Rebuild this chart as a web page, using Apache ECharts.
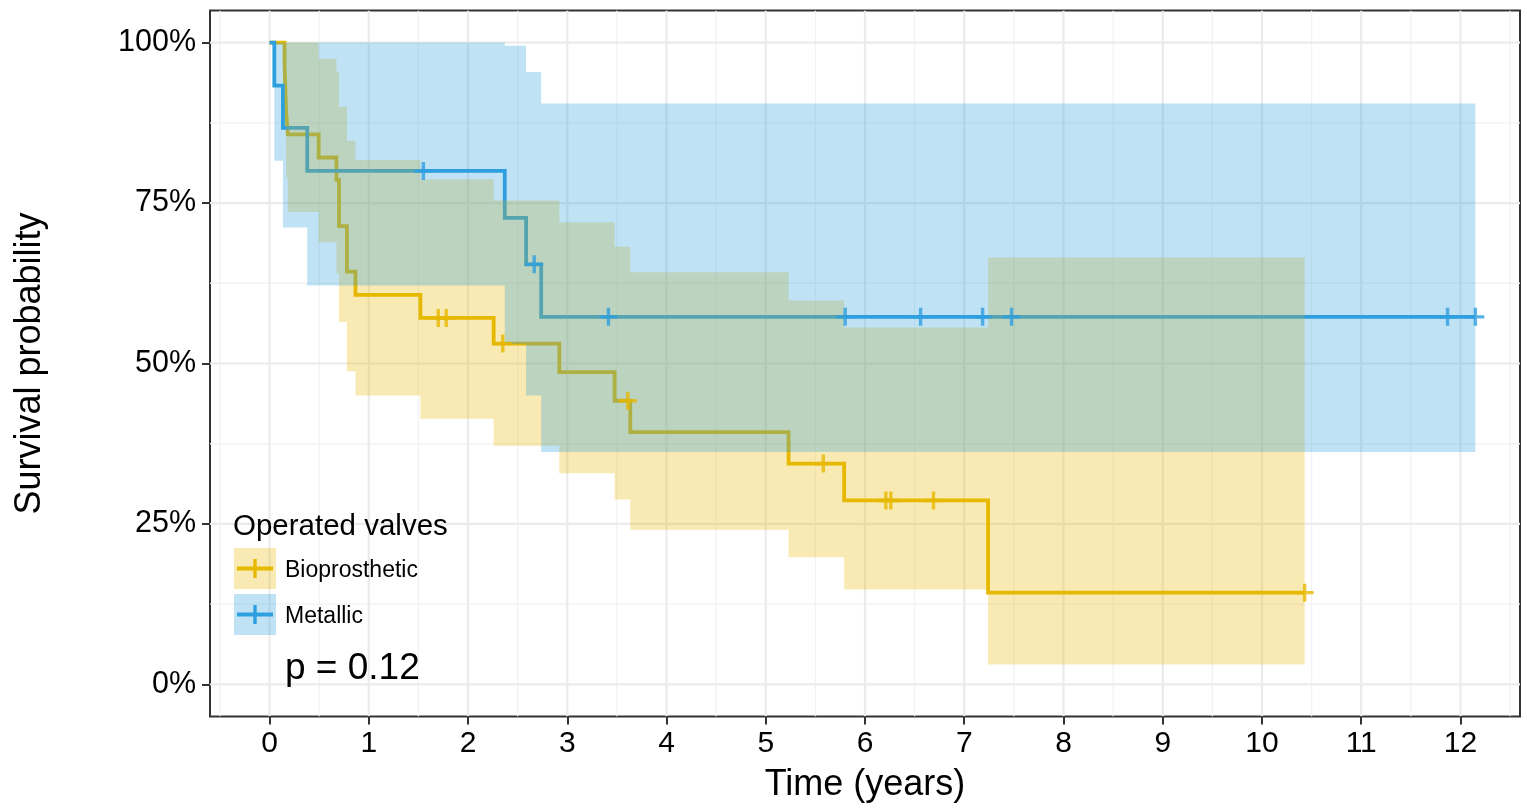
<!DOCTYPE html>
<html><head><meta charset="utf-8">
<script src="https://cdn.jsdelivr.net/npm/echarts@6/dist/echarts.min.js"></script>
<style>html,body{margin:0;padding:0;background:#fff}#c{width:1527px;height:810px}</style>
</head><body><div id="c"></div>
<script>
// ---- Data ----
const groupNames = ['Bioprosthetic', 'Metallic'];

const bioTime  = [0, 0.151, 0.167, 0.184, 0.495, 0.674, 0.70, 0.78, 0.866, 1.52, 2.258, 2.92, 3.477, 3.635, 5.23, 5.79, 7.24, 10.43];
const bioSurv  = [1, 0.964, 0.893, 0.857, 0.821, 0.786, 0.714, 0.643, 0.607, 0.571, 0.531, 0.4865, 0.442, 0.393, 0.344, 0.2866, 0.143, 0.143];
const bioLower = [1, 0.90, 0.79, 0.736, 0.689, 0.64, 0.5646, 0.488, 0.45, 0.414, 0.372, 0.329, 0.288, 0.241, 0.198, 0.148, 0.031, 0.031];
const bioUpper = [1, 1, 1, 1, 0.975, 0.955, 0.90, 0.847, 0.817, 0.787, 0.754, 0.72, 0.682, 0.642, 0.598, 0.556, 0.665, 0.665];
const bioCensTime = [1.70, 1.78, 2.35, 3.61, 5.58, 6.21, 6.26, 6.69, 10.43];
const bioCensSurv = [0.571, 0.571, 0.531, 0.442, 0.344, 0.2866, 0.2866, 0.2866, 0.143];

const metTime  = [0, 0.048, 0.135, 0.38, 2.37, 2.585, 2.737, 12.15];
const metSurv  = [1, 0.933, 0.867, 0.8, 0.727, 0.6545, 0.5727, 0.5727];
const metLower = [1, 0.816, 0.712, 0.6215, 0.53, 0.45, 0.362, 0.362];
const metUpper = [1, 1, 1, 1, 0.995, 0.954, 0.905, 0.905];
const metCensTime = [1.55, 2.667, 3.415, 5.80, 6.56, 7.185, 7.477, 11.87, 12.15];
const metCensSurv = [0.8, 0.6545, 0.5727, 0.5727, 0.5727, 0.5727, 0.5727, 0.5727, 0.5727];

const xTicks = [0, 1, 2, 3, 4, 5, 6, 7, 8, 9, 10, 11, 12];
const xMinor = [-0.5, 0.5, 1.5, 2.5, 3.5, 4.5, 5.5, 6.5, 7.5, 8.5, 9.5, 10.5, 11.5, 12.5];
const yTicks = [0, 0.25, 0.5, 0.75, 1];
const yMinor = [0.125, 0.375, 0.625, 0.875];
const pText = 'p = 0.12';
const legendTitle = 'Operated valves';

// ---- Styling ----
const X_MIN = -0.6, X_MAX = 12.6, Y_MIN = -0.05, Y_MAX = 1.05;
const YEL = '#E7B800', BLU = '#2E9FDF';
const YEL_F = 'rgba(231,184,0,0.3)', BLU_F = 'rgba(46,159,223,0.3)';
const FONT = 'Liberation Sans, Arial, sans-serif';
const PLUS = 'path://M-1.9,-10 L1.9,-10 L1.9,-1.9 L10,-1.9 L10,1.9 L1.9,1.9 L1.9,10 L-1.9,10 L-1.9,1.9 L-10,1.9 L-10,-1.9 L-1.9,-1.9 Z';

function pairs(a, b) { return a.map((v, i) => [v, b[i]]); }

function gridSeries(vals, vertical, color, width) {
  return {
    type: 'custom', silent: true, z: 0, clip: true,
    data: vals.map(v => vertical ? [v, 0] : [0, v]),
    encode: { x: 0, y: 1 },
    renderItem: function (params, api) {
      const v = api.value(vertical ? 0 : 1);
      const p1 = vertical ? api.coord([v, Y_MIN]) : api.coord([X_MIN, v]);
      const p2 = vertical ? api.coord([v, Y_MAX]) : api.coord([X_MAX, v]);
      return { type: 'line', shape: { x1: p1[0], y1: p1[1], x2: p2[0], y2: p2[1] },
               style: { stroke: color, lineWidth: width } };
    }
  };
}

function ribbonSeries(t, lo, up, color, z) {
  return {
    type: 'custom', silent: true, z: z, clip: true,
    data: [[t[0], lo[0]]],
    encode: { x: 0, y: 1 },
    renderItem: function (params, api) {
      const pts = [];
      for (let i = 0; i < t.length - 1; i++) {
        pts.push(api.coord([t[i], up[i]]));
        pts.push(api.coord([t[i + 1], up[i]]));
      }
      for (let i = t.length - 2; i >= 0; i--) {
        pts.push(api.coord([t[i + 1], lo[i]]));
        pts.push(api.coord([t[i], lo[i]]));
      }
      return { type: 'polygon', shape: { points: pts }, style: { fill: color } };
    }
  };
}

function curveSeries(name, t, s, color, z) {
  return {
    name: name, type: 'line', step: 'end', z: z, silent: true,
    data: pairs(t, s), showSymbol: false, symbol: 'none',
    lineStyle: { color: color, width: 3.8, join: 'miter' }, animation: false
  };
}

function censorSeries(name, t, s, color, z) {
  return {
    name: name, type: 'scatter', z: z, silent: true,
    data: pairs(t, s), symbol: PLUS, symbolSize: 18,
    itemStyle: { color: color }, animation: false
  };
}

const chart = echarts.init(document.getElementById('c'), null, { renderer: 'canvas' });
chart.setOption({
  animation: false,
  backgroundColor: '#fff',
  grid: { left: 210, right: 7, top: 10.5, bottom: 93.5, show: true, borderColor: '#333', borderWidth: 2, backgroundColor: 'transparent' },
  xAxis: {
    type: 'value', min: X_MIN, max: X_MAX,
    name: 'Time (years)', nameLocation: 'middle', nameGap: 51,
    nameTextStyle: { fontFamily: FONT, fontSize: 36, color: '#000' },
    axisLine: { show: false, onZero: false },
    axisTick: { show: true, customValues: xTicks, length: 8, lineStyle: { color: '#333', width: 2 } },
    axisLabel: { customValues: xTicks, margin: 12, fontFamily: FONT, fontSize: 30, color: '#000' },
    splitLine: { show: false }
  },
  yAxis: {
    type: 'value', min: Y_MIN, max: Y_MAX,
    name: 'Survival probability', nameLocation: 'middle', nameGap: 162, nameRotate: 90,
    nameTextStyle: { fontFamily: FONT, fontSize: 36, color: '#000' },
    axisLine: { show: false, onZero: false },
    axisTick: { show: true, customValues: yTicks, length: 8, lineStyle: { color: '#333', width: 2 } },
    axisLabel: { customValues: yTicks, margin: 14, fontFamily: FONT, fontSize: 30.5, color: '#000',
                 formatter: v => Math.round(v * 100) + '%' },
    splitLine: { show: false }
  },
  series: [
    gridSeries(xMinor, true, '#F2F2F2', 1.3),
    gridSeries(yMinor, false, '#F2F2F2', 1.3),
    gridSeries(xTicks, true, '#EBEBEB', 2.2),
    gridSeries(yTicks, false, '#EBEBEB', 2.2),
    curveSeries(groupNames[0], bioTime, bioSurv, YEL, 3),
    curveSeries(groupNames[1], metTime, metSurv, BLU, 4),
    ribbonSeries(bioTime, bioLower, bioUpper, YEL_F, 5),
    ribbonSeries(metTime, metLower, metUpper, BLU_F, 6),
    censorSeries(groupNames[0] + ' censored', bioCensTime, bioCensSurv, YEL, 7),
    censorSeries(groupNames[1] + ' censored', metCensTime, metCensSurv, BLU, 8)
  ],
  graphic: [
    { type: 'text', left: 233, top: 512, z: 20, style: { text: legendTitle, font: '29.5px ' + FONT, fill: '#000' } },
    { type: 'rect', shape: { x: 234, y: 548, width: 42, height: 41 }, z: 20, style: { fill: YEL_F } },
    { type: 'line', shape: { x1: 237, y1: 568.5, x2: 273, y2: 568.5 }, z: 21, style: { stroke: YEL, lineWidth: 3.8 } },
    { type: 'line', shape: { x1: 255, y1: 559, x2: 255, y2: 578 }, z: 21, style: { stroke: YEL, lineWidth: 3.4 } },
    { type: 'text', left: 285, top: 559, z: 20, style: { text: groupNames[0], font: '23px ' + FONT, fill: '#000' } },
    { type: 'rect', shape: { x: 234, y: 594, width: 42, height: 41 }, z: 20, style: { fill: BLU_F } },
    { type: 'line', shape: { x1: 237, y1: 614.5, x2: 273, y2: 614.5 }, z: 21, style: { stroke: BLU, lineWidth: 3.8 } },
    { type: 'line', shape: { x1: 255, y1: 605, x2: 255, y2: 624 }, z: 21, style: { stroke: BLU, lineWidth: 3.4 } },
    { type: 'text', left: 285, top: 605, z: 20, style: { text: groupNames[1], font: '23px ' + FONT, fill: '#000' } },
    { type: 'text', left: 285, top: 650, z: 20, style: { text: pText, font: '37px ' + FONT, fill: '#000' } }
  ]
});
</script></body></html>
